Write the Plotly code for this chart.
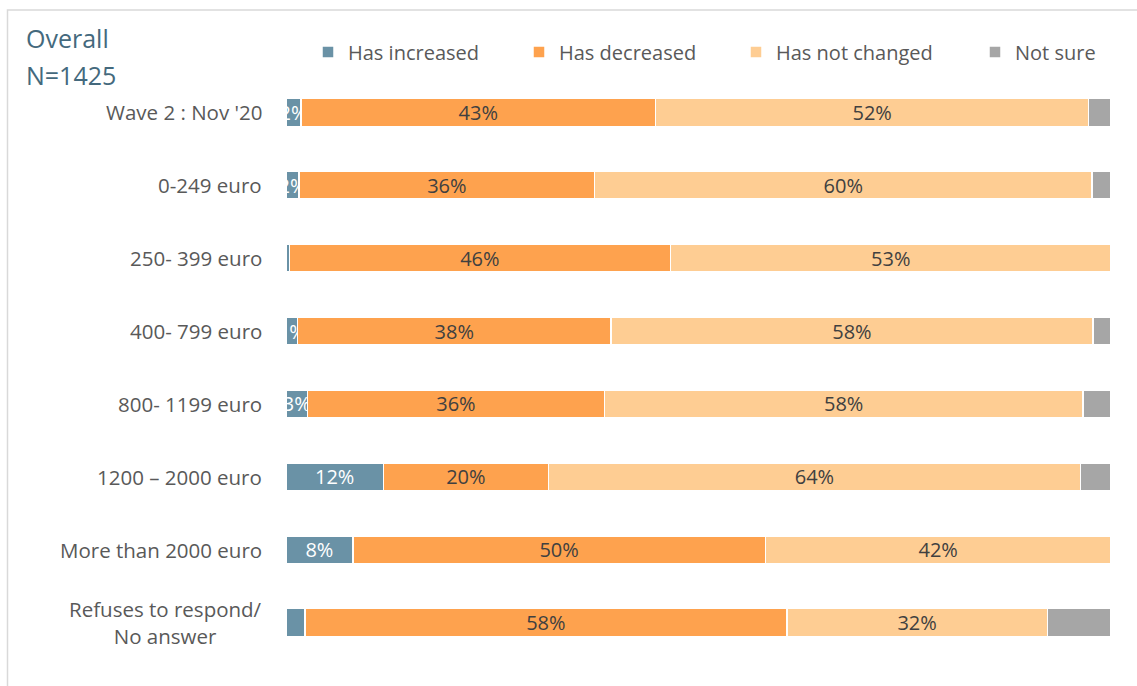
import plotly.graph_objects as go

# Household income bands (top row first) and answer shares in percent
categories = [
    "Wave 2 : Nov '20",
    "0-249 euro",
    "250- 399 euro",
    "400- 799 euro",
    "800- 1199 euro",
    "1200 \u2013 2000 euro",
    "More than 2000 euro",
    "Refuses to respond/<br>No answer",
]
has_increased = [1.8, 1.6, 0.4, 1.4, 2.6, 11.8, 8.1, 2.3]
has_decreased = [43.0, 35.8, 46.2, 38.0, 36.0, 20.0, 50.0, 58.4]
not_changed = [52.5, 60.3, 53.4, 58.4, 58.0, 64.5, 41.9, 31.6]
not_sure = [2.7, 2.3, 0.0, 2.2, 3.4, 3.7, 0.0, 7.7]

# which segments carry a value label
show_increased = [True, True, False, True, True, True, True, False]
show_decreased = [True] * 8
show_not_changed = [True] * 8
show_not_sure = [False] * 8

series = [
    ("Has increased", has_increased, show_increased, "#6a92a6", "#ffffff"),
    ("Has decreased", has_decreased, show_decreased, "#fea24e", "#404040"),
    ("Has not changed", not_changed, show_not_changed, "#fecd93", "#404040"),
    ("Not sure", not_sure, show_not_sure, "#a6a6a6", "#404040"),
]

FONT = "Open Sans"
W, H = 1137, 686
ML, MR, MT, MB = 286, 26, 76, 27
pw = W - ML - MR
ph = H - MT - MB


def px_x(x):
    return (x - ML) / pw


def px_y(y):
    return (H - MB - y) / ph


# left edge (px) of each legend entry, one legend box per series
legend_left = [308, 519, 736, 975]
legend_ids = ["legend", "legend2", "legend3", "legend4"]

fig = go.Figure()
for (name, vals, show, color, tcolor), lid in zip(series, legend_ids):
    labels = [f"{v:.0f}%" if s else "" for v, s in zip(vals, show)]
    fig.add_trace(go.Bar(
        name=name,
        y=categories,
        x=vals,
        orientation="h",
        legend=lid,
        marker=dict(color=color, line=dict(color="#ffffff", width=1.5)),
        text=labels,
        textposition="inside",
        insidetextanchor="middle",
        textangle=0,
        constraintext="none",
        textfont=dict(family=FONT, size=20, color=tcolor),
        hoverinfo="skip",
    ))

# light frame around the whole chart
fig.add_shape(
    type="rect", xref="paper", yref="paper",
    x0=px_x(7.5), x1=px_x(W + 10), y0=px_y(H + 10), y1=px_y(10),
    line=dict(color="#d9d9d9", width=1.5), fillcolor="rgba(0,0,0,0)",
    layer="below",
)

# chart heading
for text, yc in [("Overall", 38), ("N=1425", 75)]:
    fig.add_annotation(
        text=text, xref="paper", yref="paper", x=px_x(24), y=px_y(yc),
        xanchor="left", yanchor="middle", showarrow=False,
        font=dict(family=FONT, size=25, color="#44697d"),
    )

# category labels, centred line by line
for cat in categories:
    fig.add_annotation(
        text=cat, xref="paper", yref="y", x=px_x(264), y=cat,
        xanchor="right", yanchor="middle", align="center", showarrow=False,
        font=dict(family=FONT, size=20.5, color="#595959"),
    )

legend_layout = {}
for lid, left in zip(legend_ids, legend_left):
    legend_layout[lid] = dict(
        orientation="h", x=px_x(left), y=px_y(52),
        xanchor="left", yanchor="middle", bgcolor="rgba(0,0,0,0)",
        font=dict(family=FONT, size=20, color="#595959"),
        itemwidth=30,
    )

fig.update_layout(
    width=W, height=H,
    margin=dict(l=ML, r=MR, t=MT, b=MB),
    barmode="stack",
    bargap=0.62,
    plot_bgcolor="#ffffff",
    paper_bgcolor="#ffffff",
    showlegend=True,
    xaxis=dict(range=[0, 100], visible=False, fixedrange=True),
    yaxis=dict(
        autorange="reversed", showgrid=False, zeroline=False, showline=False,
        showticklabels=False, ticks="",
    ),
    **legend_layout,
)

fig.write_html("out.html")
